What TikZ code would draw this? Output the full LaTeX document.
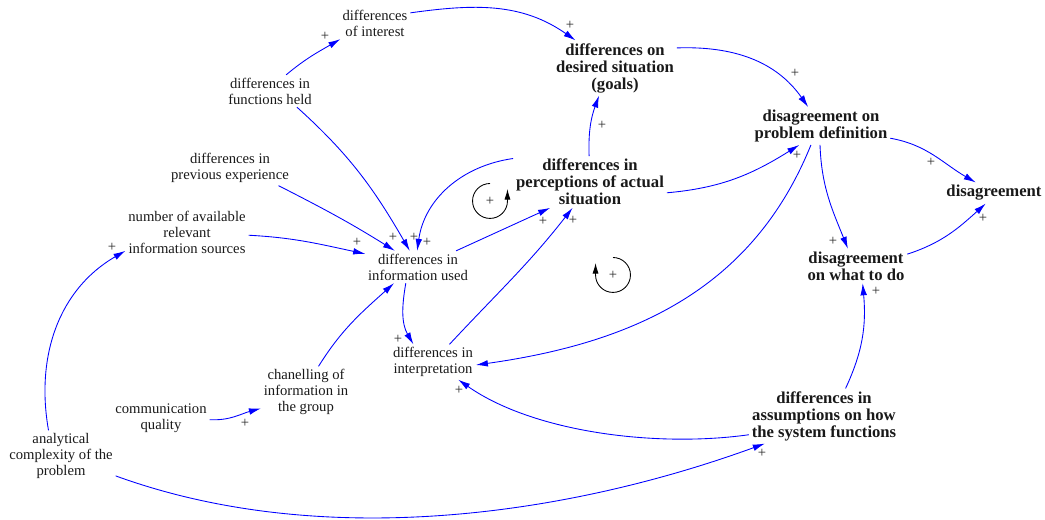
\documentclass[tikz,border=0pt]{standalone}
\usepackage{fontspec}
\setmainfont{Liberation Serif}
\usetikzlibrary{arrows.meta}

\begin{document}
\begin{tikzpicture}[x=0.75pt,y=0.75pt,
    var/.style={align=center,inner sep=2pt,text=black!90,font=\fontsize{11}{12}\selectfont},
    key/.style={var,font=\fontsize{12.5}{12.75}\selectfont\bfseries},
    link/.style={blue,line width=0.65pt,-{Latex[length=9pt,width=5pt]}},
    loopy/.style={black,line width=0.65pt,-{Latex[length=8pt,width=4.5pt]}},
    pol/.style={inner sep=0pt,text=black!85,font=\fontsize{11}{11}\selectfont}]
    \useasboundingbox (0,0) rectangle (1045,-520);
    %variables
    \node[var] (di) at (375,-23) {differences\\of interest};
    \node[var] (dfh) at (270,-91) {differences in\\functions held};
    \node[var] (dpe) at (230,-168) {differences in\\previous experience};
    \node[var] (nar) at (187,-232) {number of available\\relevant\\information sources};
    \node[var] (diu) at (418,-267) {differences in\\information used};
    \node[var] (dint) at (433,-362) {differences in\\interpretation};
    \node[var] (cig) at (306,-392) {chanelling of\\information in\\the group};
    \node[var] (cq) at (161,-418) {communication\\quality};
    \node[var] (acp) at (61,-456) {analytical\\complexity of the\\problem};
    \node[key] (dds) at (615,-68) {differences on\\desired situation\\(goals)};
    \node[key] (dpa) at (590,-182) {differences in\\perceptions of actual\\situation};
    \node[key] (dpd) at (821,-126) {disagreement on\\problem definition};
    \node[key] (dis) at (994,-193) {disagreement};
    \node[key] (dwd) at (856,-266) {disagreement\\on what to do};
    \node[key] (das) at (824,-416) {differences in\\assumptions on how\\the system functions};
    %links
    \draw[link] (dfh.45) to[out=40,in=210] (di.205);
    \draw[link] (di.16) to[out=8,in=145] (dds.145);
    \draw[link] (dds.18) to[out=2,in=125] (dpd.124);
    \draw[link] (dpa.92) to[out=92,in=250] (dds.240);
    \draw[link] (dpa.163) to[out=188,in=82] (diu.93);
    \draw[link] (dpa.-8) to[out=5,in=212] (dpd.221);
    \draw[link] (diu.23) -- (dpa.213);
    \draw[link] (dint.47) to[out=47,in=232] (dpa.236);
    \draw[link] (dpd.-10) to[out=-10,in=150] (dis.150);
    \draw[link] (dwd.13) to[out=18,in=222] (dis.232);
    \draw[link] (dpd.267) to[out=-88,in=112] (dwd.115);
    \draw[link] (dpd.242) to[out=-112,in=8] (dint.-4);
    \draw[link] (das.52) to[out=65,in=-85] (dwd.-69);
    \draw[link] (das.194) to[out=188,in=-35,looseness=0.8] (dint.-35);
    \draw[link] (acp.-20) to[out=-20,in=200,looseness=0.85] (das.205);
    \draw[link] (acp.116) to[out=100,in=210] (nar.197);
    \draw[link] (cq.-2) to[out=-3,in=195] (cig.200);
    \draw[link] (cig.64) to[out=58,in=222] (diu.214);
    \draw[link] (diu.233) to[out=-100,in=120] (dint.138);
    \draw[link] (dfh.-31) to[out=-42,in=120] (diu.117);
    \draw[link] (dpe.-20) to[out=-27,in=148] (diu.145);
    \draw[link] (nar.-3) to[out=-3,in=168] (diu.166);
    %polarities
    \foreach \x/\y [count=\i] in {325/36,570/25,795/73,602/125,427/242,797/155,
        543/221,573/220,931/162,983/218,833/241,876/291,459/390,762/453,
        112/247,245/423,398/339,414/237,393/237,357/242}
        \node[pol] (p\i) at (\x,-\y) {+};
    %loops
    \node[pol] (la) at (490,-201) {+};
    \node[pol] (lb) at (613,-275) {+};
    \draw[loopy] (la.center) ++(0,17.5) arc[start angle=90,end angle=360,radius=13.1pt] -- ++(0,12);
    \draw[loopy] (lb.center) ++(0,17.5) arc[start angle=90,end angle=-180,radius=13.1pt] -- ++(0,12);
\end{tikzpicture}
\end{document}
